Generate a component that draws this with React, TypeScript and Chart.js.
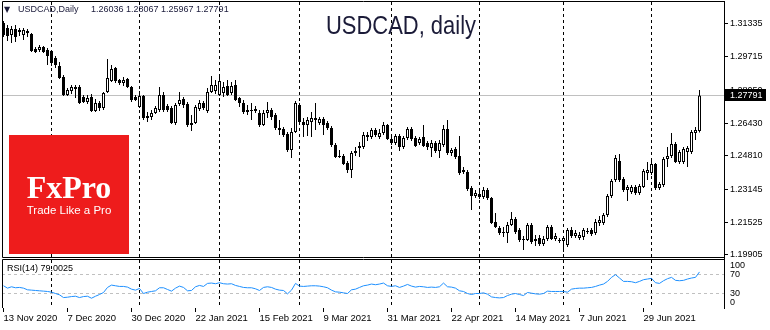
import React, { useEffect, useRef } from 'react';
import { Chart, registerables } from 'chart.js';

Chart.register(...registerables);

// x-axis date labels (every 16th daily bar)
const dateLabels = ['13 Nov 2020', '7 Dec 2020', '30 Dec 2020', '22 Jan 2021', '15 Feb 2021', '9 Mar 2021', '31 Mar 2021', '22 Apr 2021', '14 May 2021', '7 Jun 2021', '29 Jun 2021'];
const dateLabelBars = [0, 16, 32, 48, 64, 80, 96, 112, 128, 144, 160];
// month separators (first bar of each month)
const monthStartBars = [12, 34, 54, 74, 97, 119, 140, 162];

const priceTicks = [1.31335, 1.29715, 1.2805, 1.2643, 1.2481, 1.23145, 1.21525, 1.19905];
const rsiTicks = [0, 30, 70, 100];
const rsiLevels = [70, 30];

const symbolTitle = 'USDCAD, daily';
const headerSymbol = 'USDCAD,Daily';
const lastOHLC = ['1.26036', '1.28067', '1.25967', '1.27791'];
const lastPrice = 1.27791;
const rsiLabel = 'RSI(14) 79.0025';

const opens = [
  1.3138, 1.3113, 1.3079, 1.3109, 1.3094, 1.3079, 1.3099, 1.3084, 1.3010, 1.3005,
  1.3019, 1.3005, 1.3000, 1.2965, 1.2925, 1.2871, 1.2782, 1.2802, 1.2821, 1.2821,
  1.2772, 1.2747, 1.2772, 1.2703, 1.2742, 1.2717, 1.2797, 1.2851, 1.2915, 1.2856,
  1.2841, 1.2861, 1.2821, 1.2772, 1.2722, 1.2777, 1.2678, 1.2673, 1.2693, 1.2708,
  1.2782, 1.2727, 1.2717, 1.2643, 1.2737, 1.2762, 1.2737, 1.2643, 1.2643, 1.2713,
  1.2742, 1.2703, 1.2797, 1.2802, 1.2782, 1.2792, 1.2826, 1.2792, 1.2831, 1.2767,
  1.2742, 1.2708, 1.2708, 1.2703, 1.2693, 1.2633, 1.2693, 1.2708, 1.2683, 1.2618,
  1.2614, 1.2589, 1.2510, 1.2599, 1.2732, 1.2648, 1.2633, 1.2648, 1.2658, 1.2643,
  1.2663, 1.2643, 1.2618, 1.2534, 1.2480, 1.2480, 1.2445, 1.2411, 1.2495, 1.2519,
  1.2524, 1.2574, 1.2574, 1.2609, 1.2574, 1.2594, 1.2633, 1.2564, 1.2544, 1.2579,
  1.2524, 1.2569, 1.2614, 1.2569, 1.2544, 1.2574, 1.2544, 1.2519, 1.2544, 1.2505,
  1.2534, 1.2614, 1.2495, 1.2515, 1.2480, 1.2411, 1.2401, 1.2321, 1.2282, 1.2292,
  1.2277, 1.2312, 1.2272, 1.2153, 1.2123, 1.2104, 1.2099, 1.2138, 1.2168, 1.2114,
  1.2069, 1.2064, 1.2138, 1.2069, 1.2074, 1.2044, 1.2069, 1.2128, 1.2069, 1.2064,
  1.2059, 1.2039, 1.2114, 1.2084, 1.2074, 1.2079, 1.2109, 1.2114, 1.2099, 1.2148,
  1.2148, 1.2188, 1.2282, 1.2361, 1.2455, 1.2366, 1.2312, 1.2302, 1.2326, 1.2297,
  1.2326, 1.2396, 1.2396, 1.2440, 1.2321, 1.2336, 1.2465, 1.2480, 1.2539, 1.2450,
  1.2450, 1.2500, 1.2500, 1.2594, 1.26036,
];

const highs = [
  1.3148, 1.3128, 1.3123, 1.3128, 1.3113, 1.3113, 1.3109, 1.3089, 1.3019, 1.3029,
  1.3024, 1.3014, 1.3005, 1.2975, 1.2945, 1.2881, 1.2816, 1.2831, 1.2831, 1.2831,
  1.2782, 1.2782, 1.2787, 1.2762, 1.2752, 1.2797, 1.2960, 1.2930, 1.2920, 1.2861,
  1.2871, 1.2866, 1.2826, 1.2782, 1.2802, 1.2782, 1.2698, 1.2708, 1.2727, 1.2821,
  1.2797, 1.2737, 1.2727, 1.2742, 1.2797, 1.2772, 1.2747, 1.2683, 1.2732, 1.2757,
  1.2752, 1.2816, 1.2876, 1.2856, 1.2881, 1.2846, 1.2856, 1.2846, 1.2856, 1.2772,
  1.2757, 1.2732, 1.2742, 1.2727, 1.2708, 1.2708, 1.2747, 1.2717, 1.2693, 1.2658,
  1.2623, 1.2599, 1.2618, 1.2752, 1.2742, 1.2668, 1.2673, 1.2698, 1.2742, 1.2673,
  1.2673, 1.2653, 1.2628, 1.2544, 1.2510, 1.2490, 1.2455, 1.2505, 1.2524, 1.2549,
  1.2599, 1.2599, 1.2618, 1.2618, 1.2614, 1.2648, 1.2638, 1.2579, 1.2589, 1.2589,
  1.2579, 1.2623, 1.2623, 1.2579, 1.2574, 1.2633, 1.2554, 1.2559, 1.2554, 1.2559,
  1.2633, 1.2658, 1.2519, 1.2524, 1.2579, 1.2425, 1.2411, 1.2331, 1.2312, 1.2307,
  1.2326, 1.2321, 1.2277, 1.2198, 1.2133, 1.2128, 1.2153, 1.2203, 1.2178, 1.2123,
  1.2084, 1.2148, 1.2148, 1.2089, 1.2089, 1.2084, 1.2138, 1.2138, 1.2099, 1.2074,
  1.2084, 1.2123, 1.2128, 1.2114, 1.2104, 1.2123, 1.2123, 1.2123, 1.2168, 1.2183,
  1.2198, 1.2292, 1.2366, 1.2485, 1.2490, 1.2376, 1.2336, 1.2336, 1.2336, 1.2341,
  1.2416, 1.2450, 1.2455, 1.2445, 1.2351, 1.2475, 1.2524, 1.2594, 1.2549, 1.2510,
  1.2524, 1.2529, 1.2609, 1.2623, 1.28067,
];

const lows = [
  1.3069, 1.3049, 1.3039, 1.3044, 1.3074, 1.3054, 1.3069, 1.2995, 1.2990, 1.2995,
  1.2990, 1.2930, 1.2925, 1.2915, 1.2861, 1.2777, 1.2777, 1.2787, 1.2767, 1.2737,
  1.2742, 1.2737, 1.2698, 1.2698, 1.2703, 1.2708, 1.2792, 1.2846, 1.2841, 1.2831,
  1.2826, 1.2816, 1.2747, 1.2752, 1.2717, 1.2658, 1.2648, 1.2658, 1.2688, 1.2698,
  1.2698, 1.2698, 1.2638, 1.2633, 1.2727, 1.2717, 1.2623, 1.2604, 1.2638, 1.2703,
  1.2708, 1.2693, 1.2792, 1.2787, 1.2777, 1.2772, 1.2777, 1.2782, 1.2752, 1.2722,
  1.2688, 1.2683, 1.2658, 1.2693, 1.2623, 1.2628, 1.2668, 1.2658, 1.2609, 1.2584,
  1.2574, 1.2500, 1.2470, 1.2594, 1.2638, 1.2574, 1.2579, 1.2574, 1.2609, 1.2633,
  1.2584, 1.2609, 1.2524, 1.2470, 1.2470, 1.2435, 1.2396, 1.2371, 1.2480, 1.2475,
  1.2515, 1.2554, 1.2564, 1.2574, 1.2564, 1.2584, 1.2559, 1.2534, 1.2534, 1.2505,
  1.2515, 1.2559, 1.2554, 1.2524, 1.2534, 1.2524, 1.2510, 1.2475, 1.2495, 1.2470,
  1.2524, 1.2485, 1.2480, 1.2465, 1.2386, 1.2391, 1.2307, 1.2213, 1.2272, 1.2267,
  1.2267, 1.2262, 1.2143, 1.2123, 1.2089, 1.2079, 1.2049, 1.2133, 1.2094, 1.2054,
  1.2015, 1.2059, 1.2044, 1.2034, 1.2034, 1.2034, 1.2059, 1.2064, 1.2059, 1.2049,
  1.2005, 1.2029, 1.2074, 1.2074, 1.2064, 1.2064, 1.2094, 1.2084, 1.2089, 1.2133,
  1.2138, 1.2178, 1.2272, 1.2351, 1.2351, 1.2302, 1.2257, 1.2292, 1.2287, 1.2287,
  1.2321, 1.2361, 1.2386, 1.2312, 1.2312, 1.2326, 1.2425, 1.2470, 1.2445, 1.2440,
  1.2440, 1.2425, 1.2490, 1.2559, 1.25967,
];

const closes = [
  1.3079, 1.3074, 1.3109, 1.3069, 1.3104, 1.3104, 1.3089, 1.3000, 1.2995, 1.3019,
  1.2995, 1.2975, 1.2940, 1.2930, 1.2866, 1.2782, 1.2807, 1.2821, 1.2812, 1.2742,
  1.2747, 1.2767, 1.2703, 1.2742, 1.2717, 1.2792, 1.2866, 1.2911, 1.2851, 1.2841,
  1.2856, 1.2821, 1.2757, 1.2757, 1.2777, 1.2668, 1.2668, 1.2693, 1.2717, 1.2782,
  1.2708, 1.2708, 1.2643, 1.2732, 1.2757, 1.2732, 1.2633, 1.2633, 1.2722, 1.2742,
  1.2717, 1.2797, 1.2831, 1.2831, 1.2851, 1.2821, 1.2782, 1.2826, 1.2757, 1.2742,
  1.2698, 1.2698, 1.2703, 1.2713, 1.2633, 1.2693, 1.2708, 1.2673, 1.2618, 1.2609,
  1.2584, 1.2510, 1.2599, 1.2742, 1.2648, 1.2633, 1.2658, 1.2668, 1.2668, 1.2663,
  1.2633, 1.2618, 1.2534, 1.2475, 1.2475, 1.2440, 1.2411, 1.2495, 1.2505, 1.2529,
  1.2584, 1.2584, 1.2609, 1.2584, 1.2594, 1.2633, 1.2564, 1.2544, 1.2579, 1.2524,
  1.2569, 1.2614, 1.2564, 1.2529, 1.2564, 1.2529, 1.2524, 1.2544, 1.2505, 1.2544,
  1.2614, 1.2495, 1.2510, 1.2475, 1.2396, 1.2401, 1.2317, 1.2282, 1.2297, 1.2277,
  1.2312, 1.2272, 1.2148, 1.2128, 1.2099, 1.2099, 1.2138, 1.2168, 1.2104, 1.2064,
  1.2064, 1.2138, 1.2054, 1.2059, 1.2044, 1.2069, 1.2128, 1.2069, 1.2084, 1.2059,
  1.2074, 1.2114, 1.2084, 1.2099, 1.2089, 1.2114, 1.2104, 1.2094, 1.2153, 1.2163,
  1.2188, 1.2282, 1.2356, 1.2470, 1.2361, 1.2312, 1.2326, 1.2326, 1.2297, 1.2331,
  1.2406, 1.2411, 1.2440, 1.2321, 1.2341, 1.2465, 1.2480, 1.2539, 1.2450, 1.2500,
  1.2515, 1.2519, 1.2599, 1.2609, 1.27791,
];

const rsiValues = [
  46.8, 41.8, 44.7, 42.6, 43.3, 41.8, 38.3, 37.6, 36.9, 36.2,
  35.5, 34.8, 33.3, 30.5, 27.7, 22.0, 22.7, 24.1, 24.8, 22.0,
  24.1, 24.8, 20.6, 24.8, 28.4, 32.6, 43.3, 48.2, 46.8, 45.4,
  45.4, 44.0, 39.7, 37.6, 41.1, 30.5, 33.3, 34.8, 36.2, 42.6,
  42.6, 39.0, 35.5, 41.8, 46.1, 43.3, 36.2, 36.9, 44.7, 47.5,
  45.4, 51.8, 52.5, 51.1, 53.2, 51.1, 50.4, 51.1, 47.5, 45.4,
  43.3, 42.6, 42.6, 40.4, 36.9, 43.3, 44.7, 43.3, 39.7, 37.6,
  36.9, 29.8, 37.6, 51.8, 46.1, 45.4, 46.1, 46.8, 46.8, 46.1,
  44.7, 42.6, 37.6, 34.0, 33.3, 31.9, 30.5, 38.3, 39.7, 43.3,
  46.8, 48.2, 50.4, 49.0, 50.4, 52.5, 46.8, 45.4, 46.8, 43.3,
  46.1, 49.6, 46.1, 44.0, 45.4, 44.7, 43.3, 44.0, 43.3, 44.7,
  52.5, 44.7, 44.0, 41.8, 36.2, 34.8, 30.5, 28.4, 30.5, 30.5,
  31.9, 29.1, 23.4, 22.0, 21.3, 22.0, 26.2, 29.1, 30.5, 28.4,
  26.2, 32.6, 31.2, 29.8, 29.1, 30.5, 35.5, 34.8, 34.8, 34.8,
  34.8, 33.3, 39.7, 41.1, 41.8, 41.8, 42.6, 43.3, 45.4, 48.2,
  50.4, 56.0, 64.5, 70.2, 63.1, 56.0, 56.0, 55.3, 53.2, 56.0,
  59.6, 61.0, 62.4, 53.2, 51.8, 57.4, 61.7, 64.5, 58.2, 57.4,
  58.2, 61.0, 63.1, 64.5, 76.0,
];

const SANS = '"Liberation Sans", Arial, sans-serif';
const SERIF = '"Liberation Serif", "Times New Roman", serif';

export default function App() {
  const ref = useRef<HTMLCanvasElement>(null);

  useEffect(() => {
    const canvas = ref.current;
    if (!canvas) return;
    const idx = closes.map((_, i) => i);
    const wickData = idx.map((i) => ({ x: i, y: [lows[i], highs[i]] }));
    const bodyData = idx.map((i) => ({ x: i, y: [opens[i], closes[i]] }));
    const bodyColors = idx.map((i) => (closes[i] >= opens[i] ? '#ffffff' : '#000000'));
    const rsiData = idx.map((i) => ({ x: i, y: rsiValues[i] }));

    const mt4 = {
      id: 'mt4',
      beforeDatasetsDraw(chart: any) {
        const ctx = chart.ctx;
        const { left, right, top, bottom } = chart.chartArea;
        const xs = chart.scales.x;
        const ys = chart.scales.y;
        const yr = chart.scales.yr;
        ctx.save();
        ctx.lineWidth = 1;
        // last price line
        const py = Math.floor(ys.getPixelForValue(lastPrice)) + 0.5;
        ctx.strokeStyle = '#c0c0c0';
        ctx.beginPath();
        ctx.moveTo(left, py);
        ctx.lineTo(right, py);
        ctx.stroke();
        // RSI levels
        ctx.setLineDash([3, 3]);
        rsiLevels.forEach((lv) => {
          const ry = Math.floor(yr.getPixelForValue(lv)) + 0.5;
          ctx.beginPath();
          ctx.moveTo(left, ry);
          ctx.lineTo(right, ry);
          ctx.stroke();
        });
        // month separators
        ctx.strokeStyle = '#000';
        ctx.setLineDash([3, 3]);
        monthStartBars.forEach((b) => {
          const px = Math.floor(xs.getPixelForValue(b)) + 0.5;
          ctx.beginPath();
          ctx.moveTo(px, top + 1);
          ctx.lineTo(px, bottom);
          ctx.stroke();
        });
        ctx.restore();
      },
      afterDatasetsDraw(chart: any) {
        const ctx = chart.ctx;
        ctx.save();
        // FxPro logo
        ctx.fillStyle = '#ee1c1c';
        ctx.fillRect(9, 135, 120, 119);
        ctx.fillStyle = '#ffffff';
        ctx.textAlign = 'center';
        ctx.textBaseline = 'alphabetic';
        ctx.font = `bold 32px ${SERIF}`;
        ctx.fillText('FxPro', 69, 198);
        ctx.font = `11.5px ${SANS}`;
        ctx.fillText('Trade Like a Pro', 69, 214);
        ctx.restore();
      },
      afterDraw(chart: any) {
        const ctx = chart.ctx;
        const { left, right, top } = chart.chartArea;
        const ys = chart.scales.y;
        const yr = chart.scales.yr;
        ctx.save();
        ctx.strokeStyle = '#000';
        ctx.lineWidth = 1;
        const mainBottom = Math.floor(ys.bottom) - 0.5;
        const rsiTop = Math.floor(yr.top) + 1.5;
        // main panel frame
        ctx.beginPath();
        ctx.moveTo(left + 0.5, mainBottom);
        ctx.lineTo(left + 0.5, top + 0.5);
        ctx.lineTo(right + 0.5, top + 0.5);
        ctx.moveTo(left + 0.5, mainBottom);
        ctx.lineTo(right + 0.5, mainBottom);
        // rsi frame
        ctx.moveTo(left + 0.5, yr.bottom);
        ctx.lineTo(left + 0.5, rsiTop);
        ctx.lineTo(right + 0.5, rsiTop);
        ctx.stroke();

        // header
        ctx.fillStyle = '#1a1a3a';
        ctx.textAlign = 'left';
        ctx.textBaseline = 'middle';
        ctx.font = `8px "DejaVu Sans", ${SANS}`;
        ctx.fillText('▼', 4, 10);
        ctx.font = `9px ${SANS}`;
        ctx.fillText(headerSymbol, 18, 10);
        ctx.fillText(lastOHLC.join(' '), 91, 10);

        // title
        ctx.fillStyle = '#1b1b38';
        ctx.textBaseline = 'alphabetic';
        ctx.font = `25px ${SANS}`;
        const tw = ctx.measureText(symbolTitle).width;
        ctx.translate(326, 34);
        ctx.scale(150 / tw, 1);
        ctx.fillText(symbolTitle, 0, 0);
        ctx.setTransform(1, 0, 0, 1, 0, 0);

        // RSI label
        ctx.fillStyle = '#000';
        ctx.textBaseline = 'middle';
        ctx.font = `9px ${SANS}`;
        ctx.fillText(rsiLabel, 7, 268.5);

        // last price box
        const py = Math.floor(ys.getPixelForValue(lastPrice));
        ctx.fillStyle = '#000';
        ctx.fillRect(725, py - 6, 41, 12);
        ctx.fillStyle = '#fff';
        ctx.fillText(lastOHLC[3], 730, py + 0.5);
        ctx.restore();
      },
    };

    const tickFont = { family: SANS, size: 9 };
    const zeroPad = (s: any) => {
      s.paddingTop = 0;
      s.paddingBottom = 0;
      s.paddingLeft = 0;
      s.paddingRight = 0;
    };

    const chart = new Chart(canvas, {
      type: 'bar',
      data: {
        datasets: [
          {
            type: 'bar',
            label: 'wick',
            data: wickData as any,
            backgroundColor: '#000',
            borderWidth: 0,
            barThickness: 1,
            grouped: false,
            inflateAmount: 0,
            yAxisID: 'y',
            order: 2,
          },
          {
            type: 'bar',
            label: 'body',
            data: bodyData as any,
            backgroundColor: bodyColors,
            borderColor: '#000',
            borderWidth: 1,
            borderSkipped: false,
            barThickness: 3,
            grouped: false,
            inflateAmount: 0,
            yAxisID: 'y',
            order: 1,
          },
          {
            type: 'line',
            label: 'RSI(14)',
            data: rsiData as any,
            borderColor: '#1e90ff',
            borderWidth: 1,
            pointRadius: 0,
            tension: 0,
            yAxisID: 'yr',
            order: 0,
          },
        ],
      } as any,
      options: {
        responsive: false,
        animation: false,
        devicePixelRatio: 1,
        events: [],
        layout: { padding: { left: 2, top: 1, right: 0, bottom: 0 } },
        plugins: { legend: { display: false }, tooltip: { enabled: false } },
        scales: {
          x: {
            type: 'linear',
            position: 'bottom',
            min: -0.375,
            max: 180.125,
            offset: false,
            afterBuildTicks: (s: any) => {
              s.ticks = dateLabelBars.map((v) => ({ value: v }));
            },
            afterFit: (s: any) => {
              s.height = 22;
              zeroPad(s);
            },
            ticks: {
              autoSkip: false,
              maxRotation: 0,
              minRotation: 0,
              align: 'start',
              padding: 1,
              color: '#000',
              font: { family: SANS, size: 9.5 },
              callback: (_v: any, i: number) => dateLabels[i],
            },
            grid: { offset: false, drawOnChartArea: false, drawTicks: true, tickLength: 4, color: '#000' },
            border: { display: false },
          },
          y: {
            type: 'linear',
            position: 'right',
            stack: 'panes',
            stackWeight: 257,
            min: 1.19749,
            max: 1.324705,
            afterBuildTicks: (s: any) => {
              s.ticks = priceTicks.map((v) => ({ value: v }));
            },
            afterFit: (s: any) => {
              s.width = 46;
              zeroPad(s);
            },
            ticks: {
              autoSkip: false,
              padding: 2,
              color: '#000',
              font: tickFont,
              callback: (v: any) => Number(v).toFixed(5),
            },
            grid: { drawOnChartArea: false, drawTicks: true, tickLength: 4, color: '#000' },
            border: { display: true, color: '#000', width: 1 },
          },
          yr: {
            type: 'linear',
            position: 'right',
            stack: 'panes',
            stackWeight: 50,
            min: 0,
            max: 105.26,
            afterBuildTicks: (s: any) => {
              s.ticks = rsiTicks.map((v) => ({ value: v }));
            },
            afterFit: (s: any) => {
              s.width = 46;
              zeroPad(s);
            },
            ticks: {
              autoSkip: false,
              padding: 6,
              color: '#000',
              font: tickFont,
              callback: (v: any) => (v === 100 ? ['', '100'] : v === 0 ? ['0', ''] : String(v)),
            },
            grid: { drawOnChartArea: false, drawTicks: false },
            border: { display: true, color: '#000', width: 1 },
          },
        },
      } as any,
      plugins: [mt4],
    });

    return () => chart.destroy();
  }, []);

  return (
    <div style={{ position: 'fixed', left: 0, top: 0, width: 770, height: 330, background: '#fff' }}>
      <canvas ref={ref} width={770} height={330} style={{ display: 'block', width: 770, height: 330 }} />
    </div>
  );
}
